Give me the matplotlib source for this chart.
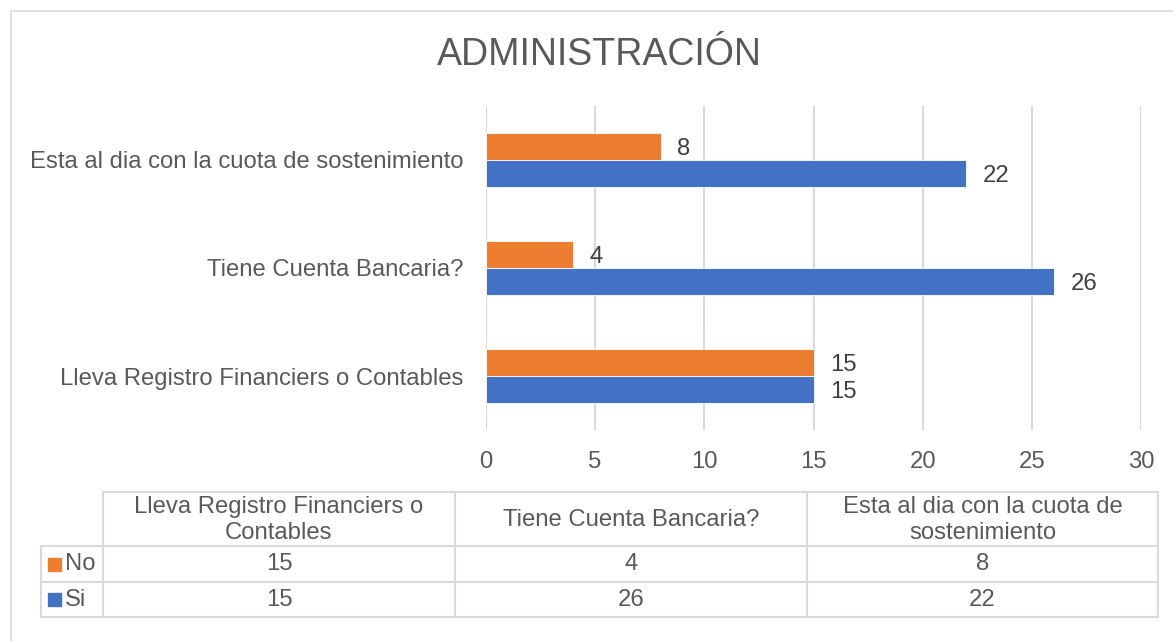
import textwrap

import matplotlib
matplotlib.use("Agg")
import matplotlib.pyplot as plt
from matplotlib.patches import Rectangle
import numpy as np

plt.rcParams['font.family'] = ['Liberation Sans', 'DejaVu Sans']

# ---- datos ----
categorias = ['Lleva Registro Financiers o Contables',
              'Tiene Cuenta Bancaria?',
              'Esta al dia con la cuota de sostenimiento']
no_vals = [15, 4, 8]
si_vals = [15, 26, 22]
series = ['No', 'Si']
x_ticks = [0, 5, 10, 15, 20, 25, 30]
titulo = 'ADMINISTRACIÓN'

C_NO = '#ED7D31'
C_SI = '#4472C4'
C_GRID = '#D9D9D9'
C_TXT = '#595959'
C_LBL = '#404040'
FS = 17.2

W, H = 1173, 641
fig = plt.figure(figsize=(W / 100, H / 100), dpi=100)
fig.patch.set_facecolor('white')

# marco exterior del gráfico
fig.patches.append(Rectangle((11 / W, -0.1), 1.2, 1 - 11 / H + 0.1, transform=fig.transFigure,
                             fill=False, edgecolor=C_GRID, linewidth=1.2))

# ---- barras ----
ax = fig.add_axes([486 / W, 1 - 430 / H, (1141 - 486) / W, (430 - 106) / H])
y = np.arange(len(categorias))
h = 0.25
b_no = ax.barh(y + h / 2, no_vals, height=h, color=C_NO, edgecolor='white', linewidth=0.6, zorder=3)
b_si = ax.barh(y - h / 2, si_vals, height=h, color=C_SI, edgecolor='white', linewidth=0.6, zorder=3)
for bars in (b_no, b_si):
    for t in ax.bar_label(bars, padding=12, fontsize=FS, color=C_LBL):
        t.set_va('center_baseline')

ax.set_xlim(0, 30)
ax.set_ylim(-0.5, len(categorias) - 0.5)
ax.set_xticks(x_ticks)
ax.set_xticklabels([str(t) for t in x_ticks], fontsize=FS, color=C_TXT)
ax.set_yticks(y)
ax.set_yticklabels(categorias, fontsize=FS, color=C_TXT)
ax.tick_params(axis='x', length=0, pad=15)
ax.tick_params(axis='y', length=0, pad=16)
ax.grid(axis='x', color=C_GRID, linewidth=1.5, zorder=0)
for s in ax.spines.values():
    s.set_visible(False)

fig.text(599 / W, 1 - 55 / H, titulo, ha='center', va='center', fontsize=27, color=C_TXT)

# ---- tabla de datos ----
tab = fig.add_axes([0, 0, 1, 1])
tab.set_xlim(0, W)
tab.set_ylim(H, 0)
tab.axis('off')
tab.patch.set_alpha(0)

col_x = [103, 455, 807, 1158]
row_y = [492, 546, 582, 617]
x_left = 41
lw = 1.5
tab.plot([col_x[0], col_x[-1]], [row_y[0], row_y[0]], color=C_GRID, lw=lw)
for ry in row_y[1:]:
    tab.plot([x_left, col_x[-1]], [ry, ry], color=C_GRID, lw=lw)
tab.plot([x_left, x_left], [row_y[1], row_y[-1]], color=C_GRID, lw=lw)
for cx in col_x:
    tab.plot([cx, cx], [row_y[0], row_y[-1]], color=C_GRID, lw=lw)

for i, cat in enumerate(categorias):
    xc = (col_x[i] + col_x[i + 1]) / 2
    tab.text(xc, (row_y[0] + row_y[1]) / 2 + 1, textwrap.fill(cat, 27), ha='center', va='center',
             fontsize=FS, color=C_TXT, linespacing=1.2)
    for j, vals in enumerate((no_vals, si_vals)):
        tab.text(xc, (row_y[j + 1] + row_y[j + 2]) / 2, str(vals[i]), ha='center', va='center',
                 fontsize=FS, color=C_TXT)

for j, (name, col) in enumerate(zip(series, (C_NO, C_SI))):
    yc = (row_y[j + 1] + row_y[j + 2]) / 2
    tab.add_patch(Rectangle((48, yc - 6.5), 13, 13, color=col))
    tab.text(65, yc, name, ha='left', va='center', fontsize=FS, color=C_TXT)

fig.savefig('out.png', dpi=100)
